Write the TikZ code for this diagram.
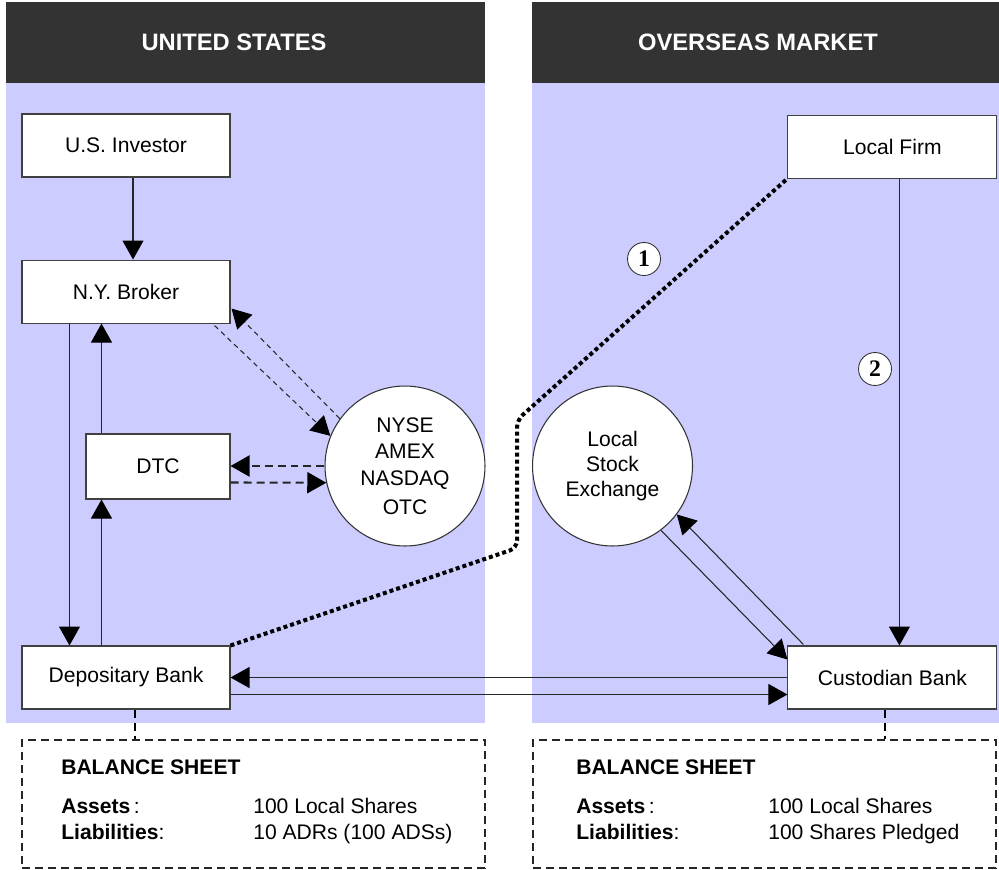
\documentclass[tikz,border=0pt]{standalone}
\usepackage{fontspec}
\setmainfont{Liberation Sans}
\newfontfamily\numfont{Liberation Serif}
\usepackage{xcolor}
\usetikzlibrary{calc, positioning, arrows.meta, shapes}
\definecolor{headgray}{HTML}{333333}
\definecolor{panelblue}{HTML}{CCCCFF}
\begin{document}
\begin{tikzpicture}[x=0.02cm, y=-0.02cm, font=\fontsize{12}{14.5}\selectfont,
	box/.style={draw=black!75, fill=white, line width=0.6pt, minimum width=4.16cm, minimum height=1.26cm, text centered},
	market/.style={circle, draw=black!80, fill=white, line width=0.6pt, minimum size=3.2cm, inner sep=0pt, align=center},
	num/.style={circle, draw=black!80, fill=white, line width=0.5pt, minimum size=0.66cm, inner sep=0pt, font=\numfont\bfseries\fontsize{13.5}{15}\selectfont},
	headtext/.style={text=white, font=\bfseries\fontsize{13.5}{16}\selectfont},
	sheet/.style={draw=black!85, line width=1.1pt, dash pattern=on 0.16cm off 0.1cm, minimum width=9.26cm, minimum height=2.56cm},
	arr/.style={-{Triangle[length=0.38cm,width=0.42cm,color=black]}, line width=0.6pt, draw=black!85},
	thindash/.style={dash pattern=on 0.1cm off 0.08cm},
	thickdash/.style={line width=1.2pt, dash pattern=on 0.16cm off 0.1cm},
	dotline/.style={line width=0.08cm, dash pattern=on 0.08cm off 0.06cm, rounded corners=0.15cm},
	sheetlink/.style={line width=1.1pt, dash pattern=on 0.16cm off 0.1cm}]

	\useasboundingbox (0,0) rectangle (999,869);

	% panels %
	\fill[headgray] (6,2) rectangle (485,83);
	\fill[panelblue] (6,83) rectangle (485,723);
	\fill[headgray] (532,2) rectangle (999,83);
	\fill[panelblue] (532,83) rectangle (999,723);
	\node[headtext] (ushead) at (234,42) {UNITED STATES};
	\node[headtext] (oshead) at (758,42) {OVERSEAS MARKET};

	% nodes - U.S. side %
	\node[box] (investor) at (126,145.5) {U.S. Investor};
	\node[box, below=1.64cm of investor] (broker) {N.Y. Broker};
	\node[box, below=6.44cm of broker] (dep) {Depositary Bank};
	\node[box, minimum width=2.88cm, minimum height=1.3cm] (dtc) at (158,466.5) {DTC};
	\node[market, font=\fontsize{12}{15.3}\selectfont] (nyse) at (405,466) {NYSE\\AMEX\\NASDAQ\\[1pt]OTC};

	% nodes - overseas side %
	\node[box, minimum width=4.18cm, right=11.14cm of dep] (cust) {Custodian Bank};
	\node[box, minimum width=4.18cm, above=9.34cm of cust] (firm) {Local Firm};
	\node[market, font=\fontsize{12}{14.2}\selectfont] (lse) at (612.5,466) {Local\\Stock\\Exchange};
	\node[num] (one) at (644,259) {1};
	\node[num] (two) at (875,369) {2};

	% balance sheets %
	\node[sheet] (usbs) at (253.5,804) {};
	\node[sheet] (osbs) at (764.5,804) {};
	\node[anchor=base west, font=\bfseries\fontsize{12}{14.5}\selectfont] (ustitle) at ($(usbs.north west)+(34,35)$) {BALANCE SHEET};
	\node[anchor=base west] (usassets) at ($(usbs.north west)+(34,74)$) {\textbf{Assets}\,:};
	\node[anchor=base west] (usliab) at ($(usbs.north west)+(34,100)$) {\textbf{Liabilities}:};
	\node[anchor=base west] (usassetsval) at ($(usbs.north west)+(226,74)$) {100 Local Shares};
	\node[anchor=base west] (usliabval) at ($(usbs.north west)+(226,100)$) {10 ADRs (100 ADSs)};
	\node[anchor=base west, font=\bfseries\fontsize{12}{14.5}\selectfont] (ostitle) at ($(osbs.north west)+(38,35)$) {BALANCE SHEET};
	\node[anchor=base west] (osassets) at ($(osbs.north west)+(38,74)$) {\textbf{Assets}\,:};
	\node[anchor=base west] (osliab) at ($(osbs.north west)+(38,100)$) {\textbf{Liabilities}:};
	\node[anchor=base west] (osassetsval) at ($(osbs.north west)+(230,74)$) {100 Local Shares};
	\node[anchor=base west] (osliabval) at ($(osbs.north west)+(230,100)$) {100 Shares Pledged};

	% edges - U.S. side %
	\draw[arr] ($(investor.south)+(7,0)$) coordinate (invout) -- (invout |- broker.north);
	\draw[arr] ($(broker.south west)+(48,0)$) coordinate (brokout) -- (brokout |- dep.north);
	\draw[arr] ($(dtc.north west)+(16,0)$) coordinate (dtcout) -- (dtcout |- broker.south);
	\draw[arr] ($(dtc.south west)+(16,0)$) coordinate (dtcin) ++(0,1) (dtcin |- dep.north) -- (dtcin);
	\draw[arr, thindash] ($(broker.south east)+(-16,2)$) -- (nyse.158);
	\draw[arr, thindash] (nyse.144) -- ($(broker.east)+(1,17)$);
	\draw[arr, thickdash] (nyse.180) -- (nyse.180 -| dtc.east);
	\draw[arr, thickdash] ($(dtc.east)+(0,16)$) -- (nyse.192);

	% edges - overseas side %
	\draw[arr] ($(firm.south west)+(112,0)$) coordinate (firmout) -- (firmout |- cust.north);
	\draw[arr] (lse.-53) -- ($(cust.north west)+(0,14)$);
	\draw[arr] ($(cust.north west)+(16,-1)$) -- (lse.-37);
	\draw[arr] (cust.west) -- (cust.west -| dep.east);
	\draw[arr] ($(dep.east)+(0,17)$) coordinate (depout) -- (depout -| cust.west);

	% dotted link %
	\coordinate (bendlow) at (517,548);
	\coordinate (bendhigh) at (517,420);
	\draw[dotline] (dep.north east) -- (bendlow) -- (bendhigh) -- (firm.south west);

	% links to balance sheets %
	\draw[sheetlink] ($(dep.south)+(9,0)$) coordinate (depdown) -- (depdown |- usbs.north);
	\draw[sheetlink] ($(cust.south)+(-7.5,0)$) coordinate (custdown) -- (custdown |- osbs.north);

\end{tikzpicture}
\end{document}
